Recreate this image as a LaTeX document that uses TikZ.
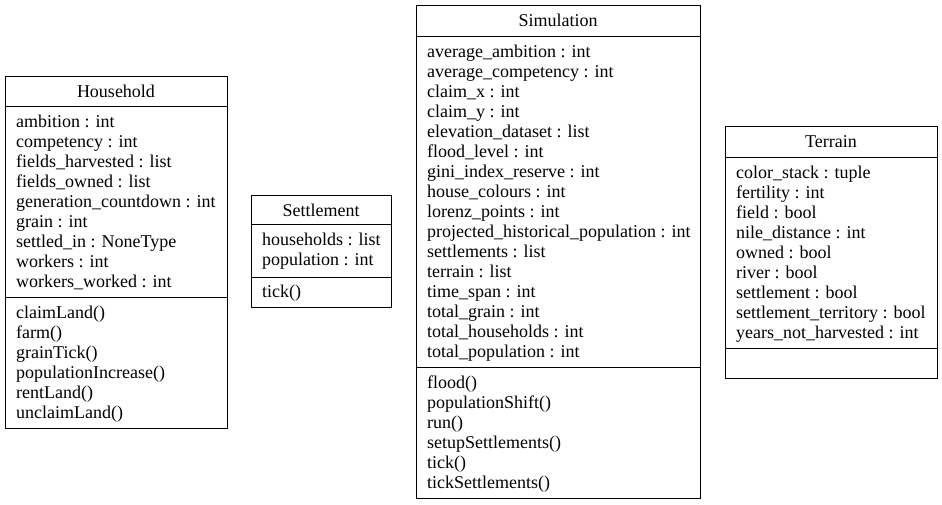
\documentclass[tikz,border=0pt]{standalone}
\usepackage{fontspec}
\setmainfont{Liberation Serif}
\begin{document}
\begin{tikzpicture}[x=1pt,y=-1pt,
  every node/.style={font=\fontsize{18}{20}\selectfont, inner sep=0pt},
  sepline/.style={line width=0.9pt},
  txt/.style={anchor=base west},
  ttl/.style={anchor=base}]
\useasboundingbox (0,0) rectangle (942,504);
% ---------- Household ----------
\coordinate (hhNW) at (5,76);
\coordinate (hhSE) at (227,428);
\draw[sepline] (hhNW) rectangle (hhSE);
\coordinate (hhS1) at (5,106);
\coordinate (hhS2) at (5,297);
\draw[sepline] (hhS1) -- (hhS1 -| hhSE);
\draw[sepline] (hhS2) -- (hhS2 -| hhSE);
\node[ttl] (hhT) at (116,97) {Household};
\foreach \t [count=\i] in {ambition : int, competency : int, fields\_harvested : list, fields\_owned : list, generation\_countdown : int, grain : int, settled\_in : NoneType, workers : int, workers\_worked : int}
  \node[txt] (hhA\i) at (16,107.5+20*\i) {\t};
\foreach \t [count=\i] in {claimLand(), farm(), grainTick(), populationIncrease(), rentLand(), unclaimLand()}
  \node[txt] (hhM\i) at (16,298.5+20*\i) {\t};
% ---------- Settlement ----------
\coordinate (stNW) at (251,195);
\coordinate (stSE) at (391,307);
\draw[sepline] (stNW) rectangle (stSE);
\coordinate (stS1) at (251,224);
\coordinate (stS2) at (251,277);
\draw[sepline] (stS1) -- (stS1 -| stSE);
\draw[sepline] (stS2) -- (stS2 -| stSE);
\node[ttl] (stT) at (321,216) {Settlement};
\foreach \t [count=\i] in {households : list, population : int}
  \node[txt] (stA\i) at (262,225.5+20*\i) {\t};
\foreach \t [count=\i] in {tick()}
  \node[txt] (stM\i) at (262,278+19*\i) {\t};
% ---------- Simulation ----------
\coordinate (smNW) at (416,5);
\coordinate (smSE) at (700,498);
\draw[sepline] (smNW) rectangle (smSE);
\coordinate (smS1) at (416,36);
\coordinate (smS2) at (416,367);
\draw[sepline] (smS1) -- (smS1 -| smSE);
\draw[sepline] (smS2) -- (smS2 -| smSE);
\node[ttl] (smT) at (558,26) {Simulation};
\foreach \t [count=\i] in {average\_ambition : int, average\_competency : int, claim\_x : int, claim\_y : int, elevation\_dataset : list, flood\_level : int, gini\_index\_reserve : int, house\_colours : int, lorenz\_points : int, projected\_historical\_population : int, settlements : list, terrain : list, time\_span : int, total\_grain : int, total\_households : int, total\_population : int}
  \node[txt] (smA\i) at (427,37.5+20*\i) {\t};
\foreach \t [count=\i] in {flood(), populationShift(), run(), setupSettlements(), tick(), tickSettlements()}
  \node[txt] (smM\i) at (427,368.5+20*\i) {\t};
% ---------- Terrain ----------
\coordinate (trNW) at (725,126);
\coordinate (trSE) at (937,378);
\draw[sepline] (trNW) rectangle (trSE);
\coordinate (trS1) at (725,157);
\coordinate (trS2) at (725,348);
\draw[sepline] (trS1) -- (trS1 -| trSE);
\draw[sepline] (trS2) -- (trS2 -| trSE);
\node[ttl] (trT) at (831,147) {Terrain};
\foreach \t [count=\i] in {color\_stack : tuple, fertility : int, field : bool, nile\_distance : int, owned : bool, river : bool, settlement : bool, settlement\_territory : bool, years\_not\_harvested : int}
  \node[txt] (trA\i) at (736,158.5+20*\i) {\t};
\end{tikzpicture}
\end{document}
